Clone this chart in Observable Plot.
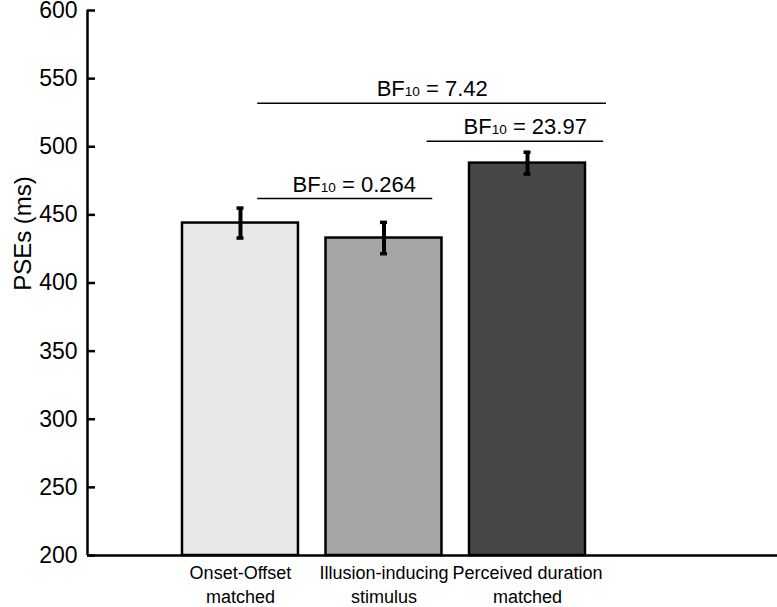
<!DOCTYPE html>
<html>
<head>
<meta charset="utf-8">
<script src="https://cdn.jsdelivr.net/npm/d3@7"></script>
<script src="https://cdn.jsdelivr.net/npm/@observablehq/plot@0.6"></script>
<style>
  html, body { margin: 0; padding: 0; background: #fff; }
  #chart svg { font-family: "Liberation Sans", Arial, sans-serif; display: block; }
</style>
</head>
<body>
<div id="chart"></div>
<script>
// ---- data ----
const categories = ["Onset-Offset\nmatched", "Illusion-inducing\nstimulus", "Perceived duration\nmatched"];
const means = [444, 433, 488];
const errors = [11, 11.5, 8];
const fills = ["#e8e8e8", "#a5a5a5", "#474747"];
const yTicks = [200, 250, 300, 350, 400, 450, 500, 550, 600];
const bfValues = ["7.42", "23.97", "0.264"];
const bfFrom = [1.12, 2.30, 1.12];
const bfTo = [3.55, 3.53, 2.34];
const bfLevel = [532, 504, 462];
const bfTextX = [2.336, 2.984, 1.793];

// ---- layout ----
const W = 777, H = 607;
const mL = 87, mR = 0, mT = 10, mB = 52;
const xDomain = [-0.066, 4.742];
const pxPerUnit = (W - mL - mR) / (xDomain[1] - xDomain[0]);
const halfBar = 0.404;
const capHalf = 3.5 / pxPerUnit;
const tickLen = 8 / pxPerUnit;

const bars = categories.map((c, i) => ({
  cat: c, pos: i + 1, mean: means[i], err: errors[i], fill: fills[i]
}));
const caps = bars.flatMap(d => [
  {pos: d.pos, y: d.mean - d.err},
  {pos: d.pos, y: d.mean + d.err}
]);
const bfs = bfValues.map((v, i) => ({
  label: "BF10 = " + v, x1: bfFrom[i], x2: bfTo[i], y: bfLevel[i], tx: bfTextX[i]
}));

const chart = Plot.plot({
  width: W, height: H,
  marginLeft: mL, marginRight: mR, marginTop: mT, marginBottom: mB,
  style: {fontFamily: "Liberation Sans, Arial, sans-serif", color: "#000", background: "#fff", overflow: "visible"},
  x: {type: "linear", domain: xDomain},
  y: {domain: [200, 600]},
  marks: [
    Plot.rect(bars, {x1: d => d.pos - halfBar, x2: d => d.pos + halfBar, y1: 200, y2: "mean",
      fill: d => d.fill, stroke: "#000", strokeWidth: 2.5}),
    Plot.ruleX(bars, {x: "pos", y1: d => d.mean - d.err, y2: d => d.mean + d.err, stroke: "#000", strokeWidth: 4}),
    Plot.ruleY(caps, {y: "y", x1: d => d.pos - capHalf, x2: d => d.pos + capHalf, stroke: "#000", strokeWidth: 3.5}),
    Plot.ruleY(bfs, {y: "y", x1: "x1", x2: "x2", stroke: "#000", strokeWidth: 1.5}),
    Plot.text(bfs, {x: "tx", y: "y", text: "label", dy: -14, fontSize: 22, fill: "#000", textAnchor: "middle"}),
    Plot.ruleY(yTicks, {y: d => d, x1: xDomain[0], x2: xDomain[0] + tickLen, stroke: "#000", strokeWidth: 2.5}),
    Plot.ruleX([xDomain[0]], {x: d => d, y1: 200, y2: 600, stroke: "#000", strokeWidth: 2.5}),
    Plot.ruleY([200], {y: d => d, x1: xDomain[0], x2: xDomain[1], stroke: "#000", strokeWidth: 2.5}),
    Plot.axisY({ticks: yTicks, tickSize: 0, tickPadding: 10, fontSize: 23, label: null}),
    Plot.axisX({ticks: [1, 2, 3], tickFormat: d => categories[d - 1], tickSize: 0, tickPadding: 6,
      fontSize: 18, lineHeight: 1.35, label: null}),
    Plot.text(["PSEs (ms)"], {frameAnchor: "top-left", text: d => d, rotate: -90, dx: -74, dy: 223,
      fontSize: 24, fill: "#000", textAnchor: "middle"})
  ]
});

// subscript "10" in BF10 labels
d3.select(chart).selectAll("text").each(function() {
  const t = this.textContent;
  if (t.startsWith("BF10 = ")) {
    const sel = d3.select(this);
    sel.text(null);
    sel.append("tspan").text("BF");
    sel.append("tspan").attr("font-size", "0.62em").text("10");
    sel.append("tspan").text(t.slice(4));
  }
});

document.getElementById("chart").appendChild(chart);
</script>
</body>
</html>
